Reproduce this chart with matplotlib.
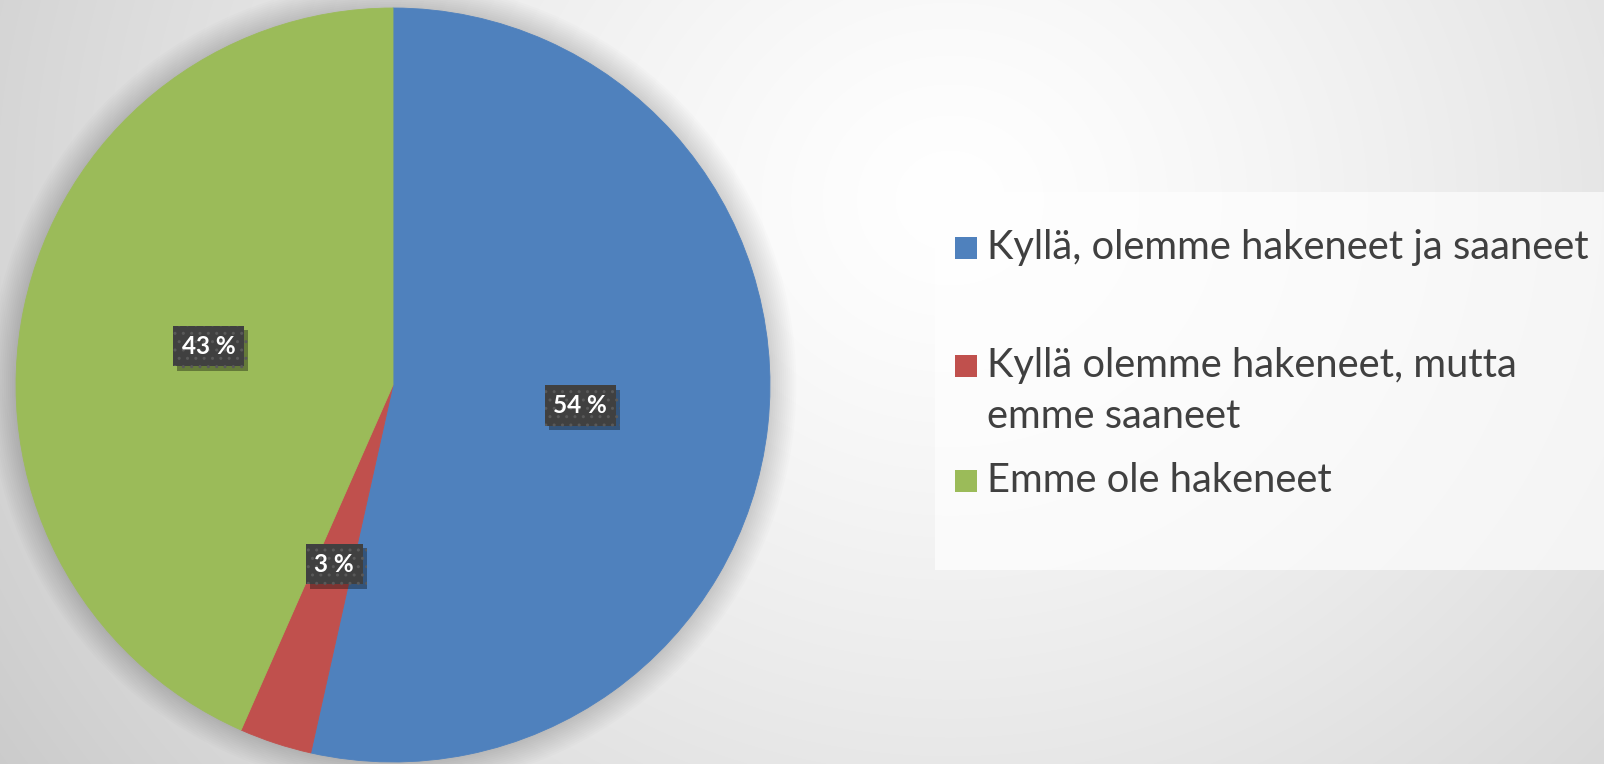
import matplotlib.pyplot as plt
import matplotlib.patheffects as pe
import numpy as np
from matplotlib.patches import Circle, Rectangle

categories = [
    "Kyllä, olemme hakeneet ja saaneet",
    "Kyllä olemme hakeneet, mutta\nemme saaneet",
    "Emme ole hakeneet",
]
shares = [53.5, 3.1, 43.4]
share_labels = ["54 %", "3 %", "43 %"]
colors = ["#4f81bd", "#c0504d", "#9bbb59"]

W, H = 1604, 764
fig = plt.figure(figsize=(W / 100, H / 100), dpi=100)

# soft grey radial background
bg = fig.add_axes([0, 0, 1, 1])
bg.axis("off")
yy, xx = np.mgrid[0:H, 0:W]
dist = np.hypot(xx - 950, (yy - 200) * 1.1)
shade = 1.0 - 0.16 * np.clip(dist / 950, 0, 1.3) ** 1.3
bg.imshow(np.dstack([shade] * 3), aspect="auto", interpolation="nearest")

# pie
ax = fig.add_axes([16 / W, 2 / H, 754 / W, 754 / H])
wedges, _ = ax.pie(shares, colors=colors, startangle=90, counterclock=False,
                   radius=1, wedgeprops=dict(linewidth=0))
for w in wedges:
    w.set_edgecolor(w.get_facecolor())
    w.set_linewidth(0.6)
    w.set_zorder(3)
ax.set_xlim(-1, 1)
ax.set_ylim(-1, 1)
ax.set_aspect("equal")

# faint shadow around the pie
for r in np.linspace(1.07, 1.0, 14):
    ax.add_patch(Circle((0, 0), r, facecolor="black", alpha=0.013,
                        linewidth=0, zorder=1, clip_on=False))

for w, lab in zip(wedges, share_labels):
    mid = np.deg2rad((w.theta1 + w.theta2) / 2)
    t = ax.text(0.5 * np.cos(mid), 0.5 * np.sin(mid), lab, ha="center",
                va="center", fontsize=17.5, fontweight="bold", family="Lato",
                color="white", zorder=5,
                bbox=dict(boxstyle="square,pad=0.36", facecolor="#404040",
                          edgecolor="#595959", hatch="..", linewidth=0))
    t.get_bbox_patch().set_path_effects([
        pe.SimplePatchShadow(offset=(3, -3), shadow_rgbFace="black", alpha=0.35),
        pe.Normal(),
    ])

# legend, drawn in pixel space
lg = fig.add_axes([0, 0, 1, 1])
lg.set_xlim(0, W)
lg.set_ylim(H, 0)
lg.axis("off")
lg.add_patch(Rectangle((935, 192), W - 935, 378, facecolor="white",
                       alpha=0.65, linewidth=0))
entry_y = [248, 366, 481]
line_gap = 51
for cat, col, y0 in zip(categories, colors, entry_y):
    lg.add_patch(Rectangle((955, y0 - 11), 22, 22, facecolor=col, linewidth=0))
    for i, line in enumerate(cat.split("\n")):
        lg.text(987, y0 + i * line_gap, line, ha="left", va="center",
                fontsize=28.7, family="Lato", color="#404040")

fig.savefig("out.png", dpi=100)
